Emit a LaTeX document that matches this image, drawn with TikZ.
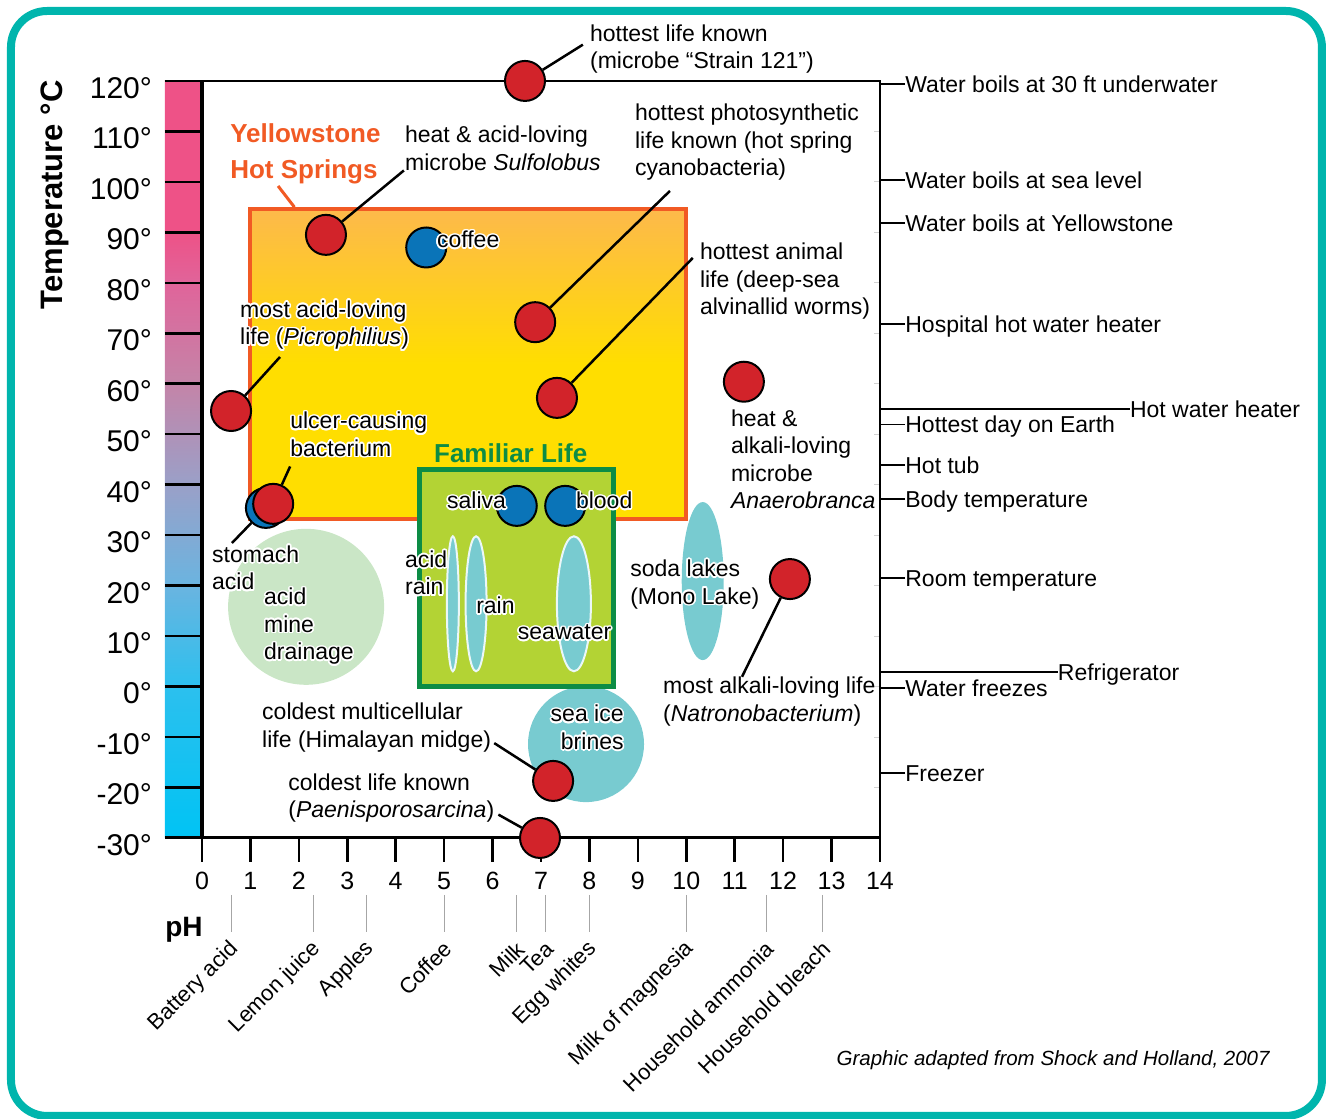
\documentclass[tikz,border=0pt]{standalone}
\usepackage{fontspec}
\setmainfont{Liberation Sans}
\usepackage{contour}
\contourlength{1.6pt}
\usetikzlibrary{positioning, fit, calc, shapes.geometric}

% colours
\definecolor{frameteal}{HTML}{00B5AD}
\definecolor{dotred}{HTML}{D2232A}
\definecolor{dotblue}{HTML}{0A74B8}
\definecolor{springorange}{HTML}{F15A24}
\definecolor{springtop}{HTML}{FDB94B}
\definecolor{springyellow}{HTML}{FFDE00}
\definecolor{lifegreen}{HTML}{0C8C45}
\definecolor{lifefill}{HTML}{B3D334}
\definecolor{waterteal}{HTML}{78CBD0}
\definecolor{minegreen}{HTML}{CAE6C6}
\definecolor{barpink}{HTML}{EE5287}
\definecolor{barrose}{HTML}{E0649A}
\definecolor{barmauve}{HTML}{C484A8}
\definecolor{barlav}{HTML}{9AA0C8}
\definecolor{barblue}{HTML}{6AB4E0}
\definecolor{barsky}{HTML}{2CC0EE}
\definecolor{barcyan}{HTML}{00C3F4}

% temperature bar, -30 at 25bp, 120 at 75bp
\pgfdeclareverticalshading{tempbar}{100bp}{color(0bp)=(barcyan); color(25bp)=(barcyan);
  color(35bp)=(barsky); color(41.67bp)=(barblue); color(48.33bp)=(barlav);
  color(55bp)=(barmauve); color(61.67bp)=(barrose); color(65bp)=(barpink);
  color(100bp)=(barpink)}

% fonts
\newcommand{\lbl}{\fontsize{23}{27.5}\selectfont}
\newcommand{\ticklbl}{\fontsize{30}{33}\selectfont}
\newcommand{\phlbl}{\fontsize{25}{28}\selectfont}
\newcommand{\prodfont}{\fontsize{22}{26}\selectfont}
\newcommand{\boldlbl}{\fontsize{26}{36}\selectfont\bfseries}
% white outline round text on coloured ground
\newcommand{\halo}[2][l]{\contour{white}{\begin{tabular}{@{}#1@{}}#2\end{tabular}}}

\begin{document}
\begin{tikzpicture}[
    x=48.43pt, y=5.047pt, % 1 unit = 1 pH, 1 degree C
    % Styles
    lbl/.style={font=\lbl, inner sep=0pt, align=left, anchor=west},
    sidelbl/.style={font=\lbl, inner sep=0pt, anchor=west, text height=16.5pt, text depth=0pt},
    prodlbl/.style={font=\prodfont, rotate=45, anchor=east, inner sep=0pt},
    reddot/.style={circle, draw=black, line width=2pt, fill=dotred, minimum size=40pt, inner sep=0pt},
    bluedot/.style={reddot, fill=dotblue},
    leader/.style={line width=2.5pt},
    sidetick/.style={line width=1.5pt},
    hotbox/.style={draw=springorange, line width=4pt, top color=springtop,
        bottom color=springyellow, middle color=springyellow, inner sep=0pt},
    lifebox/.style={draw=lifegreen, fill=lifefill, line width=5pt, inner sep=0pt},
    pool/.style={ellipse, fill=waterteal, draw=white!85!waterteal, line width=2pt,
        minimum height=135pt, inner sep=0pt}
]
    \useasboundingbox (-4.171,136.04) rectangle (23.293,-85.67);
    \draw[frameteal, line width=8pt, rounded corners=36pt] (-3.944,133.86) rectangle (23.126,-85.08);

    % Temperature bar and axes
    \shade[shading=tempbar] (-0.764,120) rectangle (0,-30);
    \foreach \tc in {-20,-10,...,110}
        \draw[line width=2.5pt] (-0.764,\tc) -- (0,\tc);
    \foreach \tc in {-20,-10,...,110}
        \draw[gray!35, line width=1pt] (13.88,\tc) -- (14,\tc);
    \draw[line width=2.5pt] (-0.764,120) -- (14,120) -- (14,-30);
    \draw[line width=3pt] (-0.764,-30) -- (14,-30);
    \draw[line width=3.5pt] (0,120) -- (0,-30);
    \coordinate (axisR) at (14,0);

    \foreach \p in {0,...,14} {
        \draw[line width=2.5pt] (\p,-30) -- (\p,-34.8);
        \node[font=\phlbl, inner sep=0pt] (ph\p) at (\p,-38.5) {\p};
    }
    \foreach \tc in {-30,-20,...,120}
        \node[font=\ticklbl, anchor=east, inner sep=0pt] (deg\tc) at (-1.03,{\tc-1.4}) {\tc°};
    \node[rotate=90, font=\fontsize{31}{34}\selectfont\bfseries] (ytitle) at (-3.035,97.4) {Temperature °C};
    \node[font=\fontsize{28}{30}\selectfont\bfseries, inner sep=0pt] (phtitle) at (-0.372,-48.2) {pH};

    % Habitat boxes
    \node[hotbox, fit={(1,94.6) (10,33.2)}] (hot) {};
    \node[lbl, font=\boldlbl, text=springorange] (hotlbl) at (0.58,105.6) {Yellowstone\\Hot Springs};
    \draw[springorange, line width=3pt] ($(hotlbl.south west)+(48pt,-2pt)$) -- ($(hot.north west)+(46pt,0)$);

    \node[circle, fill=minegreen, minimum size=156pt, inner sep=0pt] (mine) at (2.15,15.8) {};
    \node[circle, fill=waterteal, minimum size=116pt, inner sep=0pt] (seaice) at (7.93,-11.4) {};
    \node[ellipse, fill=waterteal, minimum width=42pt, minimum height=158pt, inner sep=0pt] (soda) at (10.34,20.9) {};

    \node[lifebox, fit={(4.5,43) (8.5,0)}] (life) {};
    \node[lbl, font=\boldlbl, text=lifegreen] (lifelbl) at (4.79,46.28) {Familiar Life};
    \node[pool, minimum width=12pt] (acidrain) at (5.18,16.4) {};
    \node[pool, minimum width=21pt] (rain) at (5.66,16.4) {};
    \node[pool, minimum width=34pt] (sea) at (7.68,16.4) {};

    % Organisms and fluids
    \node[reddot] (strain) at (6.67,120) {};
    \node[reddot] (sulfo) at (2.56,89.5) {};
    \node[bluedot] (coffee) at (4.63,87) {};
    \node[reddot] (photo) at (6.88,72.2) {};
    \node[reddot] (picro) at (0.6,54.6) {};
    \node[reddot] (worms) at (7.33,57.2) {};
    \node[reddot] (anaero) at (11.19,60.4) {};
    \node[bluedot] (stomach) at (1.32,35.4) {};
    \node[reddot] (ulcer) at (1.47,36.2) {};
    \node[bluedot] (saliva) at (6.5,35.8) {};
    \node[bluedot] (blood) at (7.5,35.8) {};
    \node[reddot] (natrono) at (12.14,21.3) {};
    \node[reddot] (midge) at (7.25,-18.7) {};
    \node[reddot] (paeni) at (6.98,-30) {};

    % Labels
    \node[lbl] (strainlbl) at (8.01,126.3) {hottest life known\\(microbe “Strain 121”)};
    \node[lbl] (sulfolbl) at (4.19,106.7) {heat \& acid-loving\\microbe \textit{Sulfolobus}};
    \node[lbl] (photolbl) at (8.94,107.8) {hottest photosynthetic\\life known (hot spring\\cyanobacteria)};
    \node[lbl] (wormlbl) at (10.28,80.3) {hottest animal\\life (deep-sea\\alvinallid worms)};
    \node[lbl] (picrolbl) at (0.785,71.35) {\halo{most acid-loving\\life (\textit{Picrophilius})}};
    \node[lbl] (anaerolbl) at (10.92,45.05) {heat \&\\alkali-loving\\microbe\\\textit{Anaerobranca}};
    \node[lbl] (ulcerlbl) at (1.82,49.26) {\halo{ulcer-causing\\bacterium}};
    \node[lbl, anchor=east] (salivalbl) at (6.28,36.18) {\halo{saliva}};
    \node[lbl] (bloodlbl) at (7.72,36.18) {\halo{blood}};
    \node[lbl] (coffeelbl) at (4.85,87.9) {\halo{coffee}};
    \node[lbl] (stomachlbl) at (0.206,22.8) {\halo{stomach\\acid}};
    \node[lbl] (minelbl) at (1.28,11.67) {\halo{acid\\mine\\drainage}};
    \node[lbl] (acidrainlbl) at (4.19,21.8) {\halo{acid\\rain}};
    \node[lbl] (rainlbl) at (5.66,15.4) {\halo{rain}};
    \node[lbl] (sealbl) at (6.52,10.2) {\halo{seawater}};
    \node[lbl] (sodalbl) at (8.84,20.0) {\halo{soda lakes\\(Mono Lake)}};
    \node[lbl] (natronolbl) at (9.52,-2.95) {most alkali-loving life\\(\textit{Natronobacterium})};
    \node[lbl] (midgelbl) at (1.24,-8.1) {coldest multicellular\\life (Himalayan midge)};
    \node[lbl, anchor=east] (seaicelbl) at (8.71,-8.8) {\halo[r]{sea ice\\brines}};
    \node[lbl] (paenilbl) at (1.78,-22.07) {coldest life known\\(\textit{Paenisporosarcina})};

    % Leader lines
    \draw[leader] (strain) -- ($(strainlbl.west)+(-7pt,4.5pt)$);
    \draw[leader] (sulfo) -- ($(sulfolbl.south west)+(-1pt,0)$);
    \draw[leader] (photo) -- ($(photolbl.south west)+(35pt,-10pt)$);
    \draw[leader] (worms) -- ($(wormlbl.north west)+(-7pt,-15pt)$);
    \draw[leader] (picro) -- ($(picrolbl.south west)+(40pt,-2pt)$);
    \draw[leader] (ulcer) -- (ulcerlbl.south west);
    \draw[leader] (stomach) -- ($(stomachlbl.north west)+(20pt,0)$);
    \draw[leader] (natrono) -- ($(natronolbl.north west)+(79pt,0)$);
    \draw[leader] ($(midgelbl.south east)+(3pt,9pt)$) -- (midge);
    \draw[leader] ($(paenilbl.south east)+(4pt,8pt)$) -- (paeni);

    % Everyday temperatures
    \foreach \tc/\name/\txt in {119.4/boilthirty/Water boils at 30 ft underwater,
        100.4/boilsea/Water boils at sea level, 91.9/boilys/Water boils at Yellowstone,
        71.8/hospital/Hospital hot water heater, 51.9/hotday/Hottest day on Earth,
        43.9/hottub/Hot tub, 37.2/body/Body temperature, 21.5/room/Room temperature,
        -0.3/freeze/Water freezes, -17.1/freezer/Freezer} {
        \node[sidelbl] (\name) at (14.52,\tc) {\txt};
        \draw[sidetick] (\name.west) -- (\name.west -| axisR);
    }
    \node[sidelbl] (heater) at (19.16,55) {Hot water heater};
    \draw[sidetick] (heater.west) -- (heater.west -| axisR);
    \node[sidelbl] (fridge) at (17.67,2.9) {Refrigerator};
    \draw[sidetick] (fridge.west) -- (fridge.west -| axisR);

    % Everyday pH
    \foreach \p/\name/\txt in {0.6/battery/Battery acid, 2.3/lemon/Lemon juice,
        3.4/apples/Apples, 5.0/coffeeph/Coffee, 6.5/milk/Milk, 7.1/tea/Tea,
        8.0/egg/Egg whites, 10.0/magnesia/Milk of magnesia,
        11.65/ammonia/Household ammonia, 12.82/bleach/Household bleach} {
        \draw[gray!70, line width=1pt] (\p,-41.3) -- (\p,-48.6);
        \node[prodlbl] (\name) at ({\p+0.083},-51.3) {\txt};
    }

    \node[font=\fontsize{20.5}{24}\selectfont\itshape, anchor=east, inner sep=0pt] (credit)
        at (22.05,-74) {Graphic adapted from Shock and Holland, 2007};
\end{tikzpicture}
\end{document}
